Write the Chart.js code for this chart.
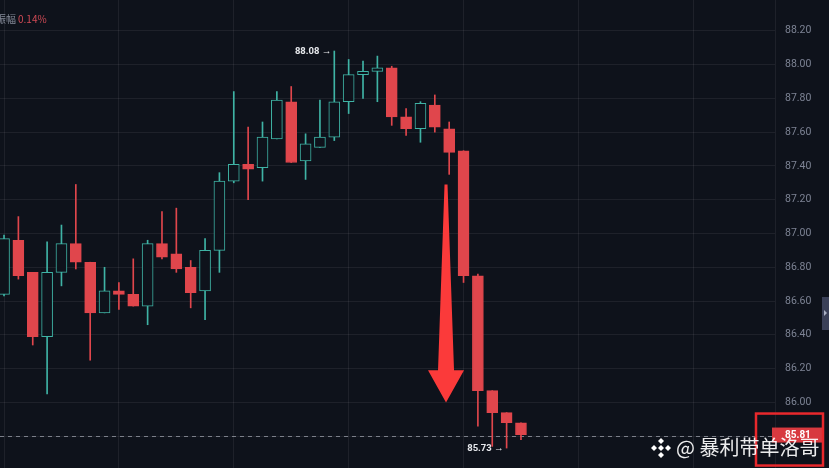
<!DOCTYPE html>
<html>
<head>
<meta charset="utf-8">
<script src="https://cdn.jsdelivr.net/npm/chart.js@4.4.1/dist/chart.umd.min.js"></script>
<style>
  html, body { margin: 0; padding: 0; background: #0e121b; }
  #wrap { position: relative; width: 829px; height: 468px; overflow: hidden; }
  #amp { position: absolute; left: -4px; top: 11px; font: 10px "Noto Sans CJK SC", Roboto, sans-serif; color: #858b99; }
  #amp span { color: #d04a55; margin-left: 2px; }
  #mark { position: absolute; left: 650px; top: 432px; font: 20px "Noto Sans CJK SC", sans-serif; color: rgba(255,255,255,0.92); white-space: nowrap; }
  #mark svg { vertical-align: -3px; margin-right: 4px; }
</style>
</head>
<body>
<div id="wrap">
  <canvas id="kline" width="829" height="468"></canvas>
  <div id="amp">振幅<span>0.14%</span></div>
  <div id="mark"><svg width="22" height="20" viewBox="0 0 22 20"><g fill="#fff"><path d="M11 0l3 3-3 3-3-3z"/><path d="M4 7l3 3-3 3-3-3z"/><path d="M18 7l3 3-3 3-3-3z"/><path d="M11 7l3 3-3 3-3-3z"/><path d="M11 14l3 3-3 3-3-3z"/></g></svg>@ 暴利带单洛哥</div>
</div>
<script>
// candles, one per slot along the x axis
let idx    = [0,1,2,3,4,5,6,7,8,9,10,11,12,13,14,15,16,17,18,19,20,21,22,23,24,25,26,27,28,29,30,31,32,33,34,35,36];
let opens  = [86.64,86.96,86.77,86.39,86.77,86.94,86.83,86.53,86.66,86.64,86.57,86.94,86.88,86.80,86.66,86.90,87.31,87.41,87.39,87.56,87.78,87.43,87.51,87.57,87.78,87.94,87.96,87.98,87.69,87.62,87.76,87.62,87.49,86.75,86.07,85.94,85.88];
let highs  = [86.99,87.10,86.77,86.95,87.05,87.29,86.83,86.80,86.71,86.85,86.96,87.13,87.15,86.84,86.97,87.36,87.84,87.63,87.66,87.84,87.87,87.59,87.79,88.08,88.03,88.02,88.05,87.99,87.74,87.78,87.82,87.66,87.49,86.76,86.07,85.94,85.88];
let lows   = [86.63,86.73,86.34,86.05,86.69,86.79,86.25,86.53,86.55,86.57,86.46,86.85,86.77,86.56,86.49,86.77,87.30,87.20,87.31,87.56,87.42,87.32,87.51,87.55,87.71,87.80,87.78,87.64,87.58,87.54,87.60,87.35,86.71,85.86,85.74,85.73,85.78];
let closes = [86.97,86.75,86.39,86.77,86.94,86.83,86.53,86.66,86.64,86.57,86.94,86.86,86.79,86.65,86.90,87.31,87.41,87.38,87.57,87.79,87.42,87.53,87.57,87.78,87.94,87.96,87.98,87.69,87.62,87.77,87.63,87.48,86.75,86.07,85.94,85.88,85.81];
let lastPrice = 85.81;
// big down arrow drawn over the drop: slot, start price, head price, tip price
let arrowAt = 30.78, arrowFrom = 87.29, arrowHead = 86.19, arrowTo = 86.0;

const BG = '#0e121b';
const UP = '#3fb3a5';
const DOWN = '#e0464c';
const GRID = 'rgba(255,255,255,0.065)';

let isUp = idx.map(i => closes[i] >= opens[i]);
let bodyData = idx.map(i => ({ x: i, y: [opens[i], closes[i]] }));
let wickData = idx.map(i => ({ x: i, y: [lows[i], highs[i]] }));

const overlay = {
    id: 'overlay',
    beforeDraw(chart) {
        const c = chart.ctx;
        c.save();
        c.fillStyle = BG;
        c.fillRect(0, 0, chart.width, chart.height);
        c.restore();
    },
    beforeDatasetsDraw(chart) {
        const c = chart.ctx, a = chart.chartArea, y = chart.scales.y;
        let py = Math.round(y.getPixelForValue(lastPrice)) + 1.5;
        c.save();
        c.strokeStyle = 'rgba(200,205,215,0.55)';
        c.lineWidth = 1;
        c.setLineDash([4, 4]);
        c.beginPath();
        c.moveTo(a.left, py);
        c.lineTo(a.right, py);
        c.stroke();
        c.restore();
    },
    afterDatasetsDraw(chart) {
        const c = chart.ctx, x = chart.scales.x, y = chart.scales.y, a = chart.chartArea;
        c.save();
        // high / low markers
        let hi = highs.indexOf(Math.max(...highs));
        let lo = lows.indexOf(Math.min(...lows));
        c.font = 'bold 9.5px Roboto, sans-serif';
        c.fillStyle = '#e6e8ec';
        c.textAlign = 'right';
        c.textBaseline = 'middle';
        c.fillText(highs[hi].toFixed(2) + ' →', x.getPixelForValue(hi) - 3, y.getPixelForValue(highs[hi]) + 1);
        c.fillText(lows[lo].toFixed(2) + ' →', x.getPixelForValue(lo) - 3, y.getPixelForValue(lows[lo]) + 1);

        // arrow
        let ax = x.getPixelForValue(arrowAt);
        let y0 = y.getPixelForValue(arrowFrom), y1 = y.getPixelForValue(arrowHead), y2 = y.getPixelForValue(arrowTo);
        c.fillStyle = '#fb3a3a';
        c.beginPath();
        c.moveTo(ax - 1.5, y0);
        c.lineTo(ax + 1.5, y0);
        c.lineTo(ax + 8, y1);
        c.lineTo(ax + 18, y1);
        c.lineTo(ax, y2);
        c.lineTo(ax - 18, y1);
        c.lineTo(ax - 8, y1);
        c.closePath();
        c.fill();

        // price tag on the axis
        let py = y.getPixelForValue(lastPrice) + 1;
        c.fillStyle = '#d8393f';
        c.fillRect(a.right - 3, py - 8, 52, 15);
        c.fillStyle = '#ffffff';
        c.font = 'bold 10px Roboto, sans-serif';
        c.textAlign = 'left';
        c.fillText(lastPrice.toFixed(2), a.right + 10, py);

        // highlight box around the tag
        c.strokeStyle = '#e8282c';
        c.lineWidth = 2.5;
        c.strokeRect(a.right - 19, py - 22, 67, 52);

        // small side tab
        c.fillStyle = '#3a4058';
        c.fillRect(chart.width - 7, 297, 7, 33);
        c.fillStyle = '#aab0c4';
        c.beginPath();
        c.moveTo(chart.width - 5, 310);
        c.lineTo(chart.width - 2, 313);
        c.lineTo(chart.width - 5, 316);
        c.closePath();
        c.fill();
        c.restore();
    }
};

new Chart(document.getElementById('kline'), {
    type: 'bar',
    data: {
        datasets: [
            {
                label: 'body',
                data: bodyData,
                order: 1,
                grouped: false,
                barThickness: 11,
                borderWidth: 1,
                borderSkipped: false,
                backgroundColor: idx.map(i => isUp[i] ? BG : DOWN),
                borderColor: idx.map(i => isUp[i] ? UP : DOWN)
            },
            {
                label: 'wick',
                data: wickData,
                order: 2,
                grouped: false,
                barThickness: 1,
                borderWidth: 0,
                backgroundColor: idx.map(i => isUp[i] ? UP : DOWN)
            }
        ]
    },
    options: {
        responsive: false,
        animation: false,
        events: [],
        layout: { padding: 0 },
        plugins: { legend: { display: false }, tooltip: { enabled: false } },
        scales: {
            x: {
                type: 'linear',
                offset: false,
                min: -0.28,
                max: 53.69,
                afterBuildTicks: s => { s.ticks = [4, 12, 20, 28, 36, 44, 52].map(v => ({ value: v })); },
                afterFit: s => { s.height = 0; s.paddingLeft = 0; s.paddingRight = 0; },
                ticks: { display: false },
                border: { display: false },
                grid: { color: GRID, drawTicks: false }
            },
            y: {
                position: 'right',
                min: 85.612,
                max: 88.382,
                afterFit: s => { s.width = 54; s.paddingTop = 0; s.paddingBottom = 0; },
                ticks: {
                    stepSize: 0.2,
                    includeBounds: false,
                    padding: 10,
                    color: '#7d8394',
                    font: { family: 'Roboto', size: 10.5 },
                    callback: v => Number(v).toFixed(2)
                },
                border: { color: GRID },
                grid: { color: GRID, drawTicks: false }
            }
        }
    },
    plugins: [overlay]
});
</script>
</body>
</html>
